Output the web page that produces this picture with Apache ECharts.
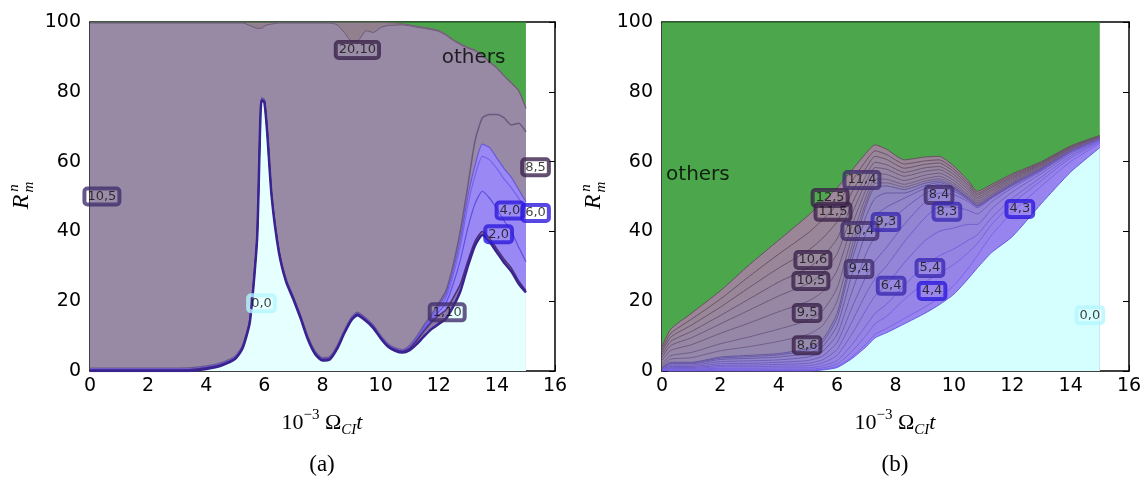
<!DOCTYPE html>
<html>
<head>
<meta charset="utf-8">
<script src="https://cdn.jsdelivr.net/npm/echarts@6/dist/echarts.min.js"></script>
<style>
html, body { margin: 0; padding: 0; background: #fff; }
#chart { width: 1148px; height: 482px; }
</style>
</head>
<body>
<div id="chart"></div>
<script>
// ---------- panel (a) : time samples (10^-3 Omega_CI t) ----------
const tA = [0, 1, 2, 3, 3.5, 4, 4.5, 5, 5.25, 5.5, 5.75, 5.9, 6, 6.1, 6.25, 6.5, 6.75, 7, 7.25, 7.5,
  7.75, 8, 8.25, 8.5, 8.75, 9, 9.2, 9.5, 9.75, 10, 10.25, 10.5, 10.75, 11, 11.25, 11.5, 11.75, 12,
  12.25, 12.5, 12.75, 13, 13.25, 13.5, 13.75, 14, 14.25, 14.5, 14.75, 15];

// mode shares R^n_m (%) for panel (a), bottom to top
const a0_0 = [0, 0, 0, 0, 0.1, 0.6, 1.5, 3.5, 6.5, 14, 38, 77.5, 77, 68, 50, 34, 25.5, 20.5, 15, 9,
  4.8, 3, 3.3, 6.3, 10.8, 14.6, 16, 14.3, 12.3, 9.4, 7, 5.8, 5.3, 6, 7.8, 10, 12, 13.5,
  15, 18.5, 23, 30, 36, 39, 37, 34, 31, 28.5, 25, 22.5];
const a1_10 = [0.3, 0.3, 0.3, 0.3, 0.3, 0.3, 0.3, 0.3, 0.3, 0.3, 0.3, 0.3, 0.3, 0.3, 0.3, 0.3, 0.3, 0.3, 0.3, 0.3,
  0.3, 0.3, 0.3, 0.3, 0.3, 0.3, 0.3, 0.3, 0.3, 0.3, 0.3, 0.3, 0.3, 0.5, 1, 1.5, 2, 2.5,
  2.5, 2.5, 2, 1.5, 1.2, 1, 1, 1, 1, 1, 0.8, 0.5];
const a2_0 = [0.1, 0.1, 0.1, 0.1, 0.1, 0.1, 0.1, 0.1, 0.1, 0.1, 0.1, 0.1, 0.1, 0.1, 0.1, 0.1, 0.1, 0.1, 0.1, 0.1,
  0.1, 0.1, 0.1, 0.1, 0.1, 0.1, 0.1, 0.1, 0.1, 0.1, 0.1, 0.1, 0.1, 0.2, 0.3, 0.5, 0.6, 1,
  2, 4, 7, 9.5, 10.8, 11.5, 11.5, 11.5, 11, 10.5, 9.7, 8.3];
const a4_0 = [0.1, 0.1, 0.1, 0.1, 0.1, 0.1, 0.1, 0.1, 0.1, 0.1, 0.1, 0.1, 0.1, 0.1, 0.1, 0.1, 0.1, 0.1, 0.1, 0.1,
  0.1, 0.1, 0.1, 0.1, 0.1, 0.1, 0.1, 0.1, 0.1, 0.1, 0.1, 0.1, 0.1, 0.2, 0.3, 0.4, 0.6, 1,
  1.5, 2.5, 4, 6.5, 8, 10, 11, 11.5, 12, 12.5, 14, 15.2];
const a6_0 = [0.1, 0.1, 0.1, 0.1, 0.1, 0.1, 0.1, 0.1, 0.1, 0.1, 0.1, 0.1, 0.1, 0.1, 0.1, 0.1, 0.1, 0.1, 0.1, 0.1,
  0.1, 0.1, 0.1, 0.1, 0.1, 0.1, 0.1, 0.1, 0.1, 0.1, 0.1, 0.1, 0.1, 0.1, 0.2, 0.3, 0.5, 0.8,
  1, 1.5, 2, 2.5, 3, 3.5, 3.5, 3, 3, 3, 2.5, 2];
const a8_5 = [0.2, 0.2, 0.2, 0.2, 0.2, 0.2, 0.2, 0.2, 0.2, 0.2, 0.2, 0.2, 0.2, 0.2, 0.2, 0.2, 0.2, 0.2, 0.2, 0.2,
  0.2, 0.2, 0.2, 0.2, 0.2, 0.2, 0.2, 0.2, 0.2, 0.2, 0.2, 0.2, 0.2, 0.3, 0.4, 0.5, 0.5, 0.7,
  1, 1.5, 2.5, 3, 7, 7.5, 9.5, 12.5, 14.5, 15, 19, 20];
const a10_5 = [98.9, 98.9, 98.9, 98.9, 98.8, 98.3, 97.4, 95.4, 92.4, 84.2, 59.4, 19.9, 21, 30.4, 48.6, 64.9, 73.4, 78.4, 83.9, 89.9,
  94.1, 95.9, 95.6, 92.1, 85.4, 79.1, 77.7, 82.4, 83.9, 88.2, 91.2, 92.5, 93.1, 91.6, 88.5, 85, 81.6, 77.8,
  73.2, 64.2, 53, 39.5, 25.7, 17.7, 14.9, 13.2, 11.9, 11.9, 9.2, 6.7];
const a20_10 = [0.3, 0.3, 0.3, 0.3, 0.3, 0.3, 0.3, 0.3, 0.3, 1, 1.8, 1.8, 1.2, 0.8, 0.6, 0.3, 0.3, 0.3, 0.3, 0.3,
  0.3, 0.3, 0.3, 0.8, 3, 5.5, 5.5, 2.5, 3, 1.5, 0.8, 0.6, 0.3, 0.3, 0.3, 0.3, 0.3, 0.3,
  0.3, 0.3, 0.3, 0.3, 0.3, 0.3, 0.3, 0.3, 0.3, 0.3, 0.3, 0.3];
const aOthers = [0, 0, 0, 0, 0, 0, 0, 0, 0, 0, 0, 0, 0, 0, 0, 0, 0, 0, 0, 0,
  0, 0, 0, 0, 0, 0, 0, 0, 0, 0.1, 0.2, 0.3, 0.5, 0.8, 1.2, 1.5, 1.9, 2.4,
  3.5, 5, 6.2, 7.2, 8, 9.5, 11.3, 13, 15.3, 17.3, 19.5, 24.5];

// ---------- panel (b) ----------
const tB = [0, 0.3, 1, 2, 3, 4, 5, 5.5, 6, 6.5, 7, 7.3, 7.7, 8.3, 9, 9.5, 10, 10.5, 10.8, 11.3, 12, 13, 14, 15];

const b0_0 = [0, 0, 0, 0, 0, 0, 0, 0.3, 1, 3.5, 7, 9.5, 11, 13.5, 16.5, 19, 22, 26.5, 29.5, 34, 38.5, 48, 57, 64];
const b4_3 = [0.05, 0.1, 0.1, 0.2, 0.2, 0.2, 0.2, 0.2, 0.3, 0.5, 0.8, 1, 1.2, 1.5, 1.8, 2, 2.5, 3, 3.5, 5, 7, 5, 3, 1.2];
const b4_4 = [0.1, 0.2, 0.2, 0.3, 0.3, 0.3, 0.3, 0.4, 0.7, 1.5, 2.5, 3, 3.5, 5.5, 7, 7, 6, 4.5, 3.5, 3, 2.5, 1.6, 1, 0.4];
const b5_4 = [0.1, 0.2, 0.2, 0.3, 0.3, 0.4, 0.4, 0.6, 1, 2, 2.8, 3, 3.5, 4, 5, 5, 4.5, 3.5, 2.5, 2, 1.5, 1, 0.6, 0.3];
const b6_4 = [0.1, 0.2, 0.2, 0.4, 0.4, 0.5, 0.6, 0.8, 1.5, 3, 4.5, 5, 5.5, 6.5, 7, 7, 6, 4.5, 3, 2.5, 1.8, 1, 0.6, 0.2];
const b8_3 = [0.1, 0.3, 0.3, 0.4, 0.5, 0.5, 0.7, 0.9, 1.7, 3.5, 4.7, 5, 5.5, 6, 6.5, 7, 6, 4, 3, 2, 1.2, 0.7, 0.4, 0.2];
const b8_4 = [0.1, 0.3, 0.3, 0.5, 0.5, 0.6, 0.8, 1.1, 2, 4, 5, 5, 5.3, 5, 4.5, 4, 3.5, 2.5, 1.8, 1, 0.6, 0.3, 0.2, 0.1];
const b9_3 = [0.15, 0.4, 0.4, 0.6, 0.7, 0.7, 1, 1.3, 2.3, 4.5, 6.5, 7, 6.5, 4.5, 2.5, 1.5, 1, 0.5, 0.4, 0.2, 0.1, 0.1, 0.05, 0.05];
const b9_4 = [0.15, 0.4, 0.4, 0.6, 0.7, 0.8, 1.1, 1.4, 2.5, 5, 6, 6, 5, 3, 1.5, 1, 0.6, 0.2, 0.1, 0.1, 0.1, 0.1, 0.05, 0.05];
const b10_4 = [0.1, 0.2, 0.2, 0.4, 0.5, 0.6, 0.9, 1.2, 2.2, 4, 4.7, 5, 4, 1.5, 0.8, 0.5, 0.3, 0.2, 0.1, 0.1, 0.1, 0.1, 0.05, 0];
const b11_4 = [0.05, 0.2, 0.2, 0.3, 0.4, 0.4, 0.5, 0.8, 1.3, 2, 3, 3.3, 2, 1, 0.7, 0.5, 0.3, 0.1, 0.1, 0.1, 0.1, 0.1, 0.05, 0];
const b8_6 = [0.5, 0.9, 1.3, 1.8, 2.5, 3.5, 4, 4, 3.5, 2.2, 1.2, 1, 0.9, 0.7, 0.6, 0.6, 0.5, 0.4, 0.3, 0.3, 0.3, 0.2, 0.15, 0.1];
const bU1 = [0.6, 1, 1.5, 2, 2.8, 3.5, 4, 4.2, 3.8, 2.5, 1.5, 1.2, 1, 0.8, 0.7, 0.7, 0.6, 0.5, 0.4, 0.3, 0.3, 0.2, 0.15, 0.1];
const b9_5 = [0.9, 1.5, 2.2, 3, 4, 5, 5.5, 5.5, 5, 3.3, 2, 1.6, 1.4, 1.1, 1, 0.9, 0.8, 0.7, 0.5, 0.5, 0.4, 0.3, 0.2, 0.15];
const b10_5 = [0.9, 1.4, 2, 2.7, 3.7, 4.5, 5, 5.3, 4.8, 3.3, 2.1, 1.7, 1.5, 1.2, 1.1, 1, 0.9, 0.7, 0.6, 0.5, 0.4, 0.3, 0.2, 0.15];
const bU2 = [0.8, 1.2, 1.8, 2.4, 3.2, 4, 4.5, 4.7, 4.3, 3, 1.9, 1.5, 1.3, 1.1, 1, 0.9, 0.8, 0.7, 0.5, 0.5, 0.4, 0.25, 0.2, 0.1];
const b10_6 = [0.8, 1.2, 1.8, 2.4, 3.3, 4, 5, 5.3, 4.9, 3.3, 2.1, 1.7, 1.5, 1.2, 1, 1, 0.8, 0.7, 0.6, 0.5, 0.4, 0.25, 0.2, 0.15];
const b11_5 = [0.7, 1.1, 1.7, 2.3, 3.2, 4, 5, 5.3, 4.9, 3.2, 2.1, 1.6, 1.4, 1.2, 1, 0.9, 0.8, 0.6, 0.5, 0.4, 0.4, 0.25, 0.2, 0.1];
const b12_5 = [0.8, 1.2, 1.7, 2.4, 3.3, 4, 5, 5.2, 4.8, 3.2, 2.1, 1.7, 1.5, 1.2, 1.1, 1, 0.8, 0.7, 0.6, 0.5, 0.4, 0.25, 0.2, 0.15];
const bOthers = [93, 88, 83.5, 77, 69.5, 62.5, 55.5, 51.5, 47.5, 42.5, 37.5, 35.2, 36.5, 39.5, 38.7, 38.5, 41.3, 45.5, 48.5, 46.5, 43.5, 40, 35.5, 32.5];

// mode labels: [x, y, text, kind]
const labelsA = [
  [9.2, 92, '20,10', 'p'], [0.41, 50, '10,5', 'q'], [5.9, 19.4, '0,0', 'c'], [12.29, 16.8, '1,10', 'q'],
  [14.06, 39.2, '2,0', 'b'], [14.45, 46, '4,0', 'b'], [15.33, 58.4, '8,5', 'p'], [15.33, 45.3, '6,0', 'b']
];
const labelsB = [
  [5.76, 49.6, '12,5', 'p'], [6.85, 54.7, '11,4', 'q'], [5.86, 45.6, '11,5', 'p'], [6.78, 40.1, '10,4', 'q'],
  [7.67, 42.7, '9,3', 'm'], [5.17, 31.8, '10,6', 'p'], [5.1, 25.8, '10,5', 'p'], [6.75, 29.2, '9,4', 'q'],
  [7.85, 24.4, '6,4', 'm'], [4.97, 16.6, '9,5', 'p'], [4.97, 7.4, '8,6', 'p'], [9.49, 50.4, '8,4', 'q'],
  [9.76, 45.6, '8,3', 'm'], [9.18, 29.5, '5,4', 'm'], [9.25, 22.9, '4,4', 'b'], [12.26, 46.4, '4,3', 'b'],
  [14.66, 16, '0,0', 'c']
];
const othersA = [[13.2, 89.8, 'others']];
const othersB = [[1.23, 56.2, 'others']];

// ---------- styling ----------
const borderOf = { p: '#3a2048', q: '#3e2a6a', m: '#3a28b0', b: '#2a18dc', c: '#b4f6ff' };

function hex(c) { return [1, 3, 5].map(i => parseInt(c.substr(i, 2), 16)); }
function mix(c1, c2, f) {
  const a = hex(c1), b = hex(c2);
  return 'rgb(' + a.map((v, i) => Math.round(v + (b[i] - v) * f)).join(',') + ')';
}

function layer(name, vals, fill, line, w) {
  return { name, vals, fill, line, w: w || 1 };
}

const layersA = [
  layer('0,0', a0_0, '#e6ffff', '#3a2290', 2.5),
  layer('1,10', a1_10, '#8a78a8', '#4b2f78', 1.5),
  layer('2,0', a2_0, '#9a88f4', '#6050e0', 1.2),
  layer('4,0', a4_0, '#9a88f4', '#7464ec', 1.2),
  layer('6,0', a6_0, '#9a88f4', '#6a58d8', 1.2),
  layer('8,5', a8_5, '#988aa6', '#6a5a82', 1.5),
  layer('10,5', a10_5, '#988aa5', '#6a5a7a', 1),
  layer('20,10', a20_10, '#93808e', '#7a6272', 1),
  layer('others', aOthers, '#4ca64c', '#2a6a2a', 1.5)
];

const lowB = [b4_3, b4_4, b5_4, b6_4, b8_3, b8_4, b9_3, b9_4, b10_4, b11_4];
const lowNames = ['4,3', '4,4', '5,4', '6,4', '8,3', '8,4', '9,3', '9,4', '10,4', '11,4'];
const highB = [b8_6, bU1, b9_5, b10_5, bU2, b10_6, b11_5, b12_5];
const highNames = ['8,6', 'u1', '9,5', '10,5', 'u2', '10,6', '11,5', '12,5'];

const layersB = [layer('0,0', b0_0, '#d5ffff', '#6a58e0', 1)];
lowB.forEach((v, i) => {
  const f = i / (lowB.length - 1);
  layersB.push(layer(lowNames[i], v, mix('#9884ee', '#9086be', f), mix('#7a64e8', '#66569c', f), 1));
});
highB.forEach((v, i) => {
  const f = i / (highB.length - 1);
  layersB.push(layer(highNames[i], v, mix('#9488ae', '#9a8696', f), mix('#725e8a', '#665062', f), 1));
});
layersB.push(layer('others', bOthers, '#4ca64c', '#2a6a2a', 1.6));

// stackplot: each layer is drawn as the running total, filled down to 0,
// topmost total first so lower layers paint over it
function stackSeries(key, xi, yi, times, layers) {
  const run = times.map(() => 0);
  const tops = layers.map(l => run.map((s, i) => (run[i] = s + l.vals[i])));
  return layers.map((l, k) => ({
    name: key + l.name,
    type: 'line',
    xAxisIndex: xi,
    yAxisIndex: yi,
    data: times.map((t, i) => [t, tops[k][i]]),
    symbol: 'none',
    smooth: 0.2,
    silent: true,
    lineStyle: { color: l.line, width: l.w },
    areaStyle: { color: l.fill, opacity: 1, origin: 'start' },
    z: 2
  })).reverse();
}

function labelSeries(xi, yi, labels) {
  return {
    type: 'scatter', xAxisIndex: xi, yAxisIndex: yi, silent: true, z: 6,
    symbolSize: 1, itemStyle: { color: 'rgba(0,0,0,0)' },
    data: labels.map(d => ({
      value: [d[0], d[1]], name: d[2],
      label: {
        show: true, position: 'inside', formatter: d[2],
        fontFamily: 'DejaVu Sans', fontSize: 13, color: '#111',
        borderColor: borderOf[d[3]], borderWidth: 2, borderRadius: 3, padding: [2, 3, 1, 3],
        backgroundColor: 'rgba(255,255,255,0.04)'
      }
    }))
  };
}

function othersSeries(xi, yi, labels) {
  return {
    type: 'scatter', xAxisIndex: xi, yAxisIndex: yi, silent: true, z: 6,
    symbolSize: 1, itemStyle: { color: 'rgba(0,0,0,0)' },
    data: labels.map(d => ({
      value: [d[0], d[1]],
      label: { show: true, position: 'inside', formatter: d[2], fontFamily: 'DejaVu Sans', fontSize: 20, color: '#000' }
    }))
  };
}

function xAx(gi, pos) {
  return {
    type: 'value', gridIndex: gi, position: pos, min: 0, max: 16, interval: 2,
    axisLine: { show: true, onZero: false, lineStyle: { color: '#000', width: 1.5 } },
    axisTick: { show: true, inside: true, length: 6, lineStyle: { color: '#000', width: 1 } },
    axisLabel: { show: pos === 'bottom', color: '#000', fontSize: 19, fontFamily: 'DejaVu Sans', margin: 6 },
    splitLine: { show: false }
  };
}
function yAx(gi, pos) {
  return {
    type: 'value', gridIndex: gi, position: pos, min: 0, max: 100, interval: 20,
    axisLine: { show: true, onZero: false, lineStyle: { color: '#000', width: 1.5 } },
    axisTick: { show: true, inside: true, length: 6, lineStyle: { color: '#000', width: 1 } },
    axisLabel: { show: pos === 'left', color: '#000', fontSize: 19, fontFamily: 'DejaVu Sans', margin: 9 },
    splitLine: { show: false }
  };
}

const serif = 'Liberation Serif';
const xNameRich = {
  n: { fontFamily: serif, fontSize: 22, lineHeight: 30, color: '#000' },
  s: { fontFamily: serif, fontSize: 15, lineHeight: 15, verticalAlign: 'top', color: '#000' },
  b: { fontFamily: serif, fontSize: 15, fontStyle: 'italic', lineHeight: 15, verticalAlign: 'bottom', color: '#000' },
  i: { fontFamily: serif, fontSize: 22, fontStyle: 'italic', lineHeight: 30, color: '#000' }
};
function xName(cx) {
  return {
    type: 'text', x: cx, y: 423, silent: true,
    style: { text: '{n|10}{s|\u22123}{n| \u03a9}{b|CI}{i|t}', rich: xNameRich, align: 'center', verticalAlign: 'middle' }
  };
}
function yName(cx) {
  const it = (t, x, y, size) => ({
    type: 'text', x: x, y: y,
    style: { text: t, fontFamily: serif, fontStyle: 'italic', fontSize: size, fill: '#000', align: 'center', verticalAlign: 'middle' }
  });
  return {
    type: 'group', x: cx, y: 197, rotation: Math.PI / 2, silent: true,
    children: [it('R', -5, 0, 24), it('n', 9, -8, 15), it('m', 10, 7, 15)]
  };
}
function caption(cx, t) {
  return {
    type: 'text', x: cx, y: 465, silent: true,
    style: { text: t, fontFamily: serif, fontSize: 23, fill: '#000', align: 'center', verticalAlign: 'middle' }
  };
}

const chart = echarts.init(document.getElementById('chart'), null, { renderer: 'canvas' });
chart.setOption({
  animation: false,
  backgroundColor: '#fff',
  grid: [
    { left: 90, top: 22, width: 465, height: 349 },
    { left: 662, top: 22, width: 467, height: 349 }
  ],
  xAxis: [xAx(0, 'bottom'), xAx(0, 'top'), xAx(1, 'bottom'), xAx(1, 'top')],
  yAxis: [yAx(0, 'left'), yAx(0, 'right'), yAx(1, 'left'), yAx(1, 'right')],
  series: [].concat(
    stackSeries('a', 0, 0, tA, layersA),
    stackSeries('b', 2, 2, tB, layersB),
    [labelSeries(0, 0, labelsA), labelSeries(2, 2, labelsB), othersSeries(0, 0, othersA), othersSeries(2, 2, othersB)]
  ),
  graphic: [xName(322), xName(895), yName(22), yName(594), caption(322, '(a)'), caption(895, '(b)')]
});
</script>
</body>
</html>
